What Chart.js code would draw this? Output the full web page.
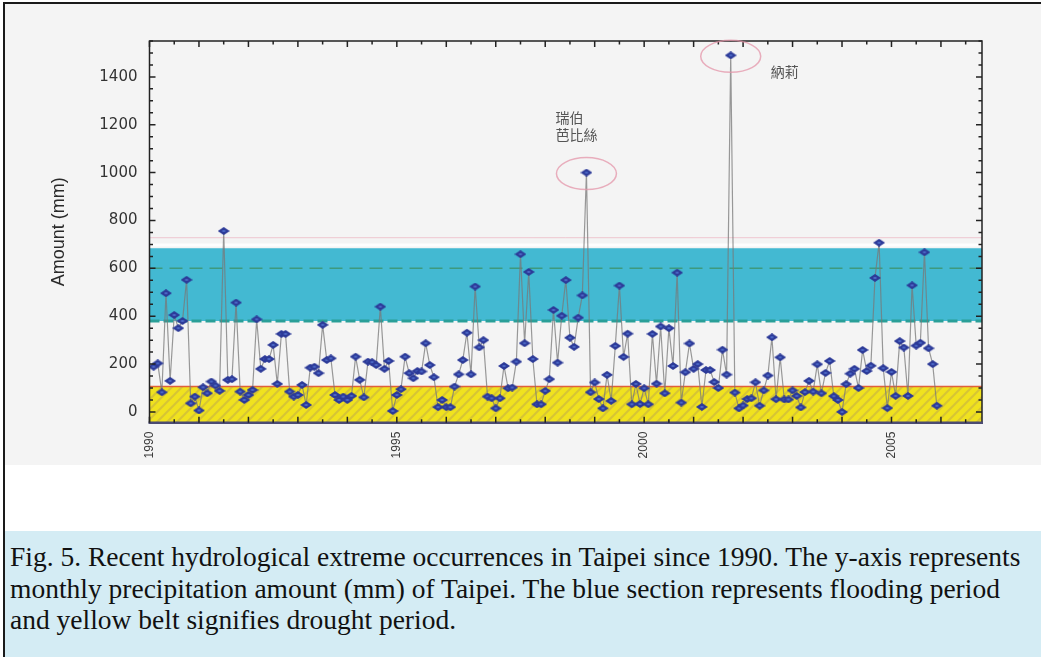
<!DOCTYPE html>
<html>
<head>
<meta charset="utf-8">
<script src="https://cdn.jsdelivr.net/npm/chart.js@4.4.0/dist/chart.umd.min.js"></script>
<style>
  html, body { margin: 0; padding: 0; background: #fff; }
  body { width: 1041px; height: 657px; overflow: hidden; position: relative; }
  .frame { position: absolute; left: 3px; top: 2px; width: 1036px; height: 655px;
           border-left: 2px solid #1a1a1a; border-top: 2px solid #1a1a1a; }
  .figure { position: absolute; left: 0; top: 0; width: 1036px; height: 461px; background: #f4f4f4; }
  .caption { position: absolute; left: 0; top: 527px; width: 1036px; height: 128px; background: #d4ecf4;
             font-family: 'Liberation Serif', serif; font-size: 27.5px; line-height: 31.5px; color: #111;
             padding: 10px 0 0 5px; box-sizing: border-box; white-space: nowrap; }
</style>
</head>
<body>
<div class="frame">
  <div class="figure"><canvas id="rainChart" width="1036" height="461"></canvas></div>
  <div class="caption">
    Fig. 5. Recent hydrological extreme occurrences in Taipei since 1990. The y-axis represents<br>
    monthly precipitation amount (mm) of Taipei. The blue section represents flooding period<br>
    and yellow belt signifies drought period.
  </div>
</div>
<script>
// monthly precipitation (mm), Jan 1990 onward
const startYear = 1990;
const precipitation = [
    189, 203, 82, 496, 130, 405, 350, 380, 552, 36, 64, 6,
    103, 78, 127, 110, 88, 756, 134, 137, 457, 85, 50, 71,
    92, 387, 180, 221, 221, 280, 117, 326, 326, 85, 64, 71,
    113, 29, 185, 189, 162, 364, 217, 224, 71, 50, 64, 50,
    67, 231, 134, 61, 210, 208, 196, 440, 180, 213, 4, 71,
    95, 231, 162, 141, 171, 169, 287, 196, 145, 20, 50, 20,
    20, 106, 157, 217, 331, 157, 524, 270, 300, 64, 57, 15,
    57, 192, 99, 102, 210, 659, 287, 585, 221, 32, 32, 88,
    137, 426, 206, 402, 551, 310, 272, 394, 487, 1000, 82, 123,
    54, 15, 155, 46, 276, 528, 230, 327, 32, 117, 33, 99,
    32, 326, 118, 357, 78, 350, 192, 582, 39, 166, 286, 180,
    200, 21, 175, 175, 125, 100, 260, 156, 1490, 81, 15, 27,
    54, 57, 124, 26, 90, 152, 312, 53, 228, 52, 52, 90,
    67, 19, 83, 130, 85, 199, 78, 163, 213, 66, 50, 0,
    116, 160, 180, 100, 259, 171, 193, 560, 707, 183, 16, 167,
    67, 296, 269, 67, 529, 277, 289, 667, 266, 200, 26
];
const yTickValues = [0, 200, 400, 600, 800, 1000, 1200, 1400];
const yearLabels = [1990, 1995, 2000, 2005];
const floodBand = [380, 684];
const floodLine = 600;
const droughtTop = 106;
const typhoonMonths = [106, 141];
const typhoonNames = [['瑞伯', '芭比絲'], ['納莉']];

const points = precipitation.map((v, i) => ({ x: startYear + (i + 1) / 12, y: v }));

function makeDiamond(w, h) {
    const c = document.createElement('canvas');
    c.width = w; c.height = h;
    const g = c.getContext('2d');
    g.beginPath();
    g.moveTo(0, h / 2); g.lineTo(w / 2, 0); g.lineTo(w, h / 2); g.lineTo(w / 2, h);
    g.closePath();
    g.fillStyle = '#2c3a98';
    g.fill();
    g.fillStyle = 'rgba(80,110,205,0.85)';
    g.fillRect(w / 2 - 1.5, h / 2 - 1, 3, 2);
    return c;
}

function makeHatch() {
    const c = document.createElement('canvas');
    c.width = 10; c.height = 10;
    const g = c.getContext('2d');
    g.fillStyle = '#f0e21e';
    g.fillRect(0, 0, 10, 10);
    g.strokeStyle = 'rgba(196,176,70,0.6)';
    g.lineWidth = 2;
    g.beginPath();
    g.moveTo(-1, 11); g.lineTo(11, -1);
    g.moveTo(-1, 1); g.lineTo(1, -1);
    g.moveTo(9, 11); g.lineTo(11, 9);
    g.stroke();
    return c;
}

const bandsPlugin = {
    id: 'bands',
    beforeDatasetsDraw(chart) {
        const { ctx, chartArea: a, scales: { y } } = chart;
        ctx.save();
        ctx.beginPath();
        ctx.rect(a.left, a.top, a.right - a.left, a.bottom - a.top);
        ctx.clip();

        // drought belt
        const dTop = y.getPixelForValue(droughtTop);
        ctx.fillStyle = ctx.createPattern(makeHatch(), 'repeat');
        ctx.fillRect(a.left, dTop, a.right - a.left, a.bottom - dTop);
        ctx.strokeStyle = '#e0603c';
        ctx.lineWidth = 1.5;
        ctx.beginPath(); ctx.moveTo(a.left, dTop); ctx.lineTo(a.right, dTop); ctx.stroke();

        // flood section
        const fLow = y.getPixelForValue(floodBand[0]);
        const fHigh = y.getPixelForValue(floodBand[1]);
        ctx.fillStyle = '#43b9d2';
        ctx.fillRect(a.left, fHigh, a.right - a.left, fLow - fHigh);
        ctx.strokeStyle = 'rgba(255,255,255,0.9)';
        ctx.lineWidth = 3;
        const wy = y.getPixelForValue(floodBand[1] + 14);
        ctx.beginPath(); ctx.moveTo(a.left, wy); ctx.lineTo(a.right, wy); ctx.stroke();
        ctx.strokeStyle = 'rgba(236,180,192,0.7)';
        ctx.lineWidth = 1;
        const py = y.getPixelForValue(728);
        ctx.beginPath(); ctx.moveTo(a.left, py); ctx.lineTo(a.right, py); ctx.stroke();

        ctx.strokeStyle = '#2a9f98';
        ctx.lineWidth = 3;
        ctx.setLineDash([10, 4]);
        ctx.beginPath(); ctx.moveTo(a.left, fLow); ctx.lineTo(a.right, fLow); ctx.stroke();

        ctx.strokeStyle = '#3d9a7e';
        ctx.lineWidth = 1.5;
        ctx.setLineDash([13, 7]);
        const gy = y.getPixelForValue(floodLine);
        ctx.beginPath(); ctx.moveTo(a.left, gy); ctx.lineTo(a.right, gy); ctx.stroke();
        ctx.restore();
    }
};

const frameTicksPlugin = {
    id: 'frameTicks',
    afterDatasetsDraw(chart) {
        const { ctx, chartArea: a, scales: { x, y } } = chart;
        ctx.save();
        ctx.strokeStyle = '#222';
        ctx.lineWidth = 1.5;
        ctx.beginPath();
        ctx.moveTo(a.left, a.bottom); ctx.lineTo(a.left, a.top);
        ctx.lineTo(a.right, a.top); ctx.lineTo(a.right, a.bottom);
        ctx.stroke();
        ctx.strokeStyle = '#4b4b72';
        ctx.lineWidth = 2.5;
        ctx.beginPath(); ctx.moveTo(a.left - 1, a.bottom); ctx.lineTo(a.right + 1, a.bottom); ctx.stroke();

        ctx.strokeStyle = '#222';
        ctx.lineWidth = 1.5;
        ctx.beginPath();
        for (let v = 0; v <= y.max; v += 50) {
            const py = y.getPixelForValue(v);
            const len = v % 200 === 0 ? 6 : 3.5;
            ctx.moveTo(a.left, py); ctx.lineTo(a.left + len, py);
            ctx.moveTo(a.right, py); ctx.lineTo(a.right - len, py);
        }
        for (let v = x.min; v <= x.max; v += 0.5) {
            const px = x.getPixelForValue(v);
            const len = v % 1 === 0 ? 6 : 3.5;
            ctx.moveTo(px, a.bottom); ctx.lineTo(px, a.bottom - len);
            ctx.moveTo(px, a.top); ctx.lineTo(px, a.top + len);
        }
        ctx.stroke();
        ctx.restore();
    }
};

const typhoonPlugin = {
    id: 'typhoons',
    afterDatasetsDraw(chart) {
        const { ctx } = chart;
        const meta = chart.getDatasetMeta(0);
        ctx.save();
        ctx.font = '14px "Noto Sans CJK TC"';
        ctx.fillStyle = '#555';
        ctx.textBaseline = 'middle';
        typhoonMonths.forEach((m, k) => {
            const pt = meta.data[m - 1];
            ctx.strokeStyle = 'rgba(228,150,170,0.75)';
            ctx.lineWidth = 1.5;
            ctx.beginPath();
            ctx.ellipse(pt.x, pt.y + 1, 30, 16, 0, 0, Math.PI * 2);
            ctx.stroke();
            const names = typhoonNames[k];
            if (names.length > 1) {
                ctx.fillText(names[0], pt.x - 31, pt.y - 55);
                ctx.fillText(names[1], pt.x - 31, pt.y - 38);
            } else {
                ctx.fillText(names[0], pt.x + 40, pt.y + 16);
            }
        });
        ctx.restore();
    }
};

new Chart(document.getElementById('rainChart'), {
    type: 'line',
    data: {
        datasets: [{
            data: points,
            borderColor: 'rgba(120,120,120,0.75)',
            borderWidth: 1.2,
            pointStyle: makeDiamond(12, 8),
            pointRadius: 4,
            tension: 0
        }]
    },
    options: {
        responsive: false,
        animation: false,
        layout: { padding: { top: 37, right: 59, left: 0, bottom: 0 } },
        plugins: { legend: { display: false }, tooltip: { enabled: false } },
        scales: {
            x: {
                type: 'linear',
                min: 1990,
                max: 2006.83,
                grid: { display: false, drawTicks: false },
                border: { display: false },
                afterBuildTicks: (scale) => { scale.ticks = yearLabels.map(v => ({ value: v })); },
                afterFit: (scale) => { scale.height = 42.3; },
                ticks: {
                    autoSkip: false,
                    minRotation: 90,
                    maxRotation: 90,
                    padding: 9,
                    color: '#3a3a3a',
                    font: { family: 'Liberation Sans', size: 12 },
                    callback: (v) => String(v)
                }
            },
            y: {
                min: -45,
                max: 1550,
                grid: { display: false, drawTicks: false },
                border: { display: false },
                afterBuildTicks: (scale) => { scale.ticks = yTickValues.map(v => ({ value: v })); },
                afterFit: (scale) => { scale.width = 144.5; },
                title: {
                    display: true,
                    text: 'Amount (mm)',
                    color: '#2a2a2a',
                    font: { family: 'Liberation Sans', size: 18 },
                    padding: { top: 43, bottom: 0 }
                },
                ticks: {
                    padding: 12,
                    color: '#333',
                    font: { family: 'DejaVu Sans', size: 15 },
                    callback: (v) => String(v)
                }
            }
        }
    },
    plugins: [bandsPlugin, frameTicksPlugin, typhoonPlugin]
});
</script>
</body>
</html>
